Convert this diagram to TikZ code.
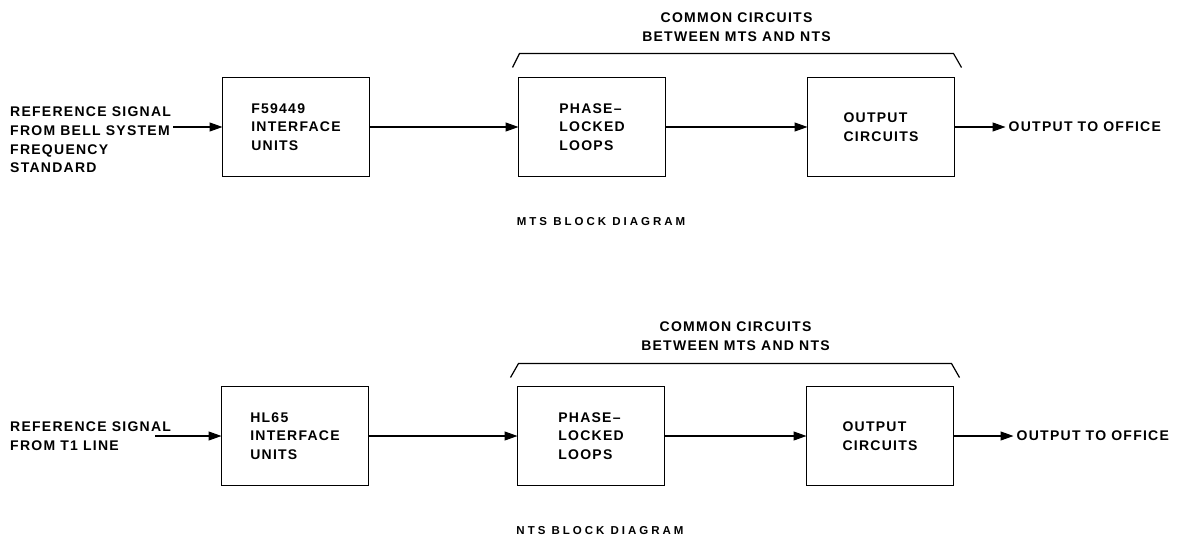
\documentclass[tikz,border=0pt]{standalone}
\usepackage{fontspec}
\newfontfamily\lettering{Liberation Sans}[LetterSpace=9]
\newfontfamily\capletter{Liberation Sans}[LetterSpace=26]
\usetikzlibrary{arrows.meta, positioning, calc}

\begin{document}
\begin{tikzpicture}[
    x=1pt, y=1pt,
    box/.style={
      rectangle, draw=black, line width=1.2pt, outer sep=0pt,
      minimum width=147pt, minimum height=99pt,
      align=left, font=\lettering\bfseries\fontsize{14}{18.5}\selectfont
    },
    lbl/.style={align=left, inner sep=0pt,
      font=\lettering\bfseries\fontsize{14}{18.7}\selectfont},
    capt/.style={inner sep=0pt,
      font=\capletter\bfseries\fontsize{11.5}{13}\selectfont},
    arr/.style={-{Triangle[length=13pt,width=9pt]}, line width=1.2pt},
    brk/.style={line width=1.2pt},
    node distance=149pt
  ]
  \useasboundingbox (0,0) rectangle (1183,542);

  % MTS block diagram
  \node[box] (f59) at (296,415) {F59449\\INTERFACE\\UNITS};
  \node[box, right=of f59] (pll1) {PHASE–\\LOCKED\\LOOPS};
  \node[box, right=142pt of pll1] (oc1) {OUTPUT\\CIRCUITS};
  \node[lbl, anchor=west] (in1) at (10,402)
        {REFERENCE SIGNAL\\FROM BELL SYSTEM\\FREQUENCY\\STANDARD};
  \node[lbl, right=54pt of oc1] (out1) {OUTPUT TO OFFICE};
  \node[lbl, align=center] (com1)
        at ($(pll1.north west)!0.5!(oc1.north east)+(0,50)$)
        {COMMON CIRCUITS\\BETWEEN MTS AND NTS};
  \node[capt, below=41pt of pll1, xshift=9pt] (cap1) {MTS BLOCK DIAGRAM};

  \draw[arr] ([xshift=2pt]in1.east |- f59.west) -- (f59.west);
  \draw[arr] (f59)  -- (pll1);
  \draw[arr] (pll1) -- (oc1);
  \draw[arr] (oc1)  -- ([xshift=-3pt]out1.west);
  \draw[brk] ($(pll1.north west)+(-6,10)$) -- ++(7,14)
        -- ($(oc1.north east)+(-1,24)$) -- ++(8,-14);

  % NTS block diagram
  \node[box] (hl65) at (295,106) {HL65\\INTERFACE\\UNITS};
  \node[box, right=of hl65] (pll2) {PHASE–\\LOCKED\\LOOPS};
  \node[box, right=142pt of pll2] (oc2) {OUTPUT\\CIRCUITS};
  \node[lbl, anchor=west] (in2) at (10,106) {REFERENCE SIGNAL\\FROM T1 LINE};
  \coordinate (in2s) at (155,106);
  \node[lbl, right=63pt of oc2] (out2) {OUTPUT TO OFFICE};
  \node[lbl, align=center] (com2)
        at ($(pll2.north west)!0.5!(oc2.north east)+(0,50)$)
        {COMMON CIRCUITS\\BETWEEN MTS AND NTS};
  \node[capt, below=41pt of pll2, xshift=9pt] (cap2) {NTS BLOCK DIAGRAM};

  \draw[arr] (in2s) -- (hl65.west);
  \draw[arr] (hl65) -- (pll2);
  \draw[arr] (pll2) -- (oc2);
  \draw[arr] (oc2)  -- ([xshift=-3pt]out2.west);
  \draw[brk] ($(pll2.north west)+(-7,9)$) -- ++(8,14)
        -- ($(oc2.north east)+(-2,23)$) -- ++(8,-14);
\end{tikzpicture}
\end{document}
